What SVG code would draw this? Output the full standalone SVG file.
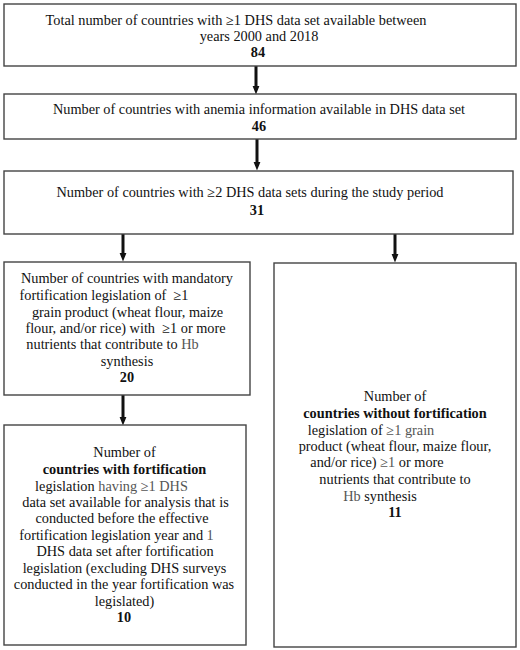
<svg xmlns="http://www.w3.org/2000/svg" width="520" height="650" viewBox="0 0 520 650">
<defs>
<style>
.box{fill:#fff;stroke:#444;stroke-width:1.4}
text{font-family:"Liberation Serif","Times New Roman",serif;font-size:14.3px;fill:#111;text-anchor:middle}
.b{font-weight:bold}
.g{fill:#555}
.arr{stroke:#111;stroke-width:3;fill:none;marker-end:url(#ah)}
</style>
<marker id="ah" markerWidth="3" markerHeight="3" refX="1.5" refY="1.5" orient="auto" markerUnits="strokeWidth">
<path d="M0,0.3 L3,1.5 L0,2.7 Z" fill="#111"/>
</marker>
</defs>
<rect width="520" height="650" fill="#fff"/>
<g id="connectors">
<line class="arr" x1="256" y1="66" x2="256" y2="90"/>
<line class="arr" x1="257" y1="139" x2="257" y2="166"/>
<line class="arr" x1="123" y1="234" x2="123" y2="257"/>
<line class="arr" x1="395" y1="234" x2="395" y2="258"/>
<line class="arr" x1="123" y1="395" x2="123" y2="421"/>
</g>
<g id="n1">
<rect class="box" x="4" y="4" width="512" height="62"/>
<text x="236" y="25">Total number of countries with ≥1 DHS data set available between</text>
<text x="259" y="41">years 2000 and 2018</text>
<text class="b" x="258" y="57">84</text>
</g>
<g id="n2">
<rect class="box" x="4" y="94" width="512" height="45"/>
<text x="259" y="114">Number of countries with anemia information available in DHS data set</text>
<text class="b" x="259" y="131">46</text>
</g>
<g id="n3">
<rect class="box" x="4" y="171" width="509" height="63"/>
<text x="250" y="197">Number of countries with ≥2 DHS data sets during the study period</text>
<text class="b" x="257" y="215">31</text>
</g>
<g id="n4">
<rect class="box" x="4" y="262" width="246" height="133"/>
<text x="127" y="283">Number of countries with mandatory</text>
<text x="104" y="300" xml:space="preserve">fortification legislation of  ≥1</text>
<text x="127.5" y="317">grain product (wheat flour, maize</text>
<text x="125.5" y="333" xml:space="preserve">flour, and/or rice) with  ≥1 or more</text>
<text x="112.5" y="349">nutrients that contribute to <tspan class="g">Hb</tspan></text>
<text x="127" y="366">synthesis</text>
<text class="b" x="127" y="382">20</text>
</g>
<g id="n5">
<rect class="box" x="274" y="263" width="242" height="384"/>
<text x="395" y="401">Number of</text>
<text class="b" x="395" y="418">countries without fortification</text>
<text x="371" y="435">legislation of <tspan class="g">≥1 grain</tspan></text>
<text x="395" y="451">product (wheat flour, maize flour,</text>
<text x="377" y="467">and/or rice) <tspan class="g">≥1</tspan> or more</text>
<text x="395" y="484">nutrients that contribute to</text>
<text x="380" y="501"><tspan class="g">Hb</tspan> synthesis</text>
<text class="b" x="395" y="517">11</text>
</g>
<g id="n6">
<rect class="box" x="4" y="425" width="242" height="220"/>
<text x="124.5" y="457">Number of</text>
<text class="b" x="124.5" y="474">countries with fortification</text>
<text x="111.5" y="491">legislation <tspan class="g">having ≥1 DHS</tspan></text>
<text x="125.5" y="507">data set available for analysis that is</text>
<text x="122" y="523">conducted before the effective</text>
<text x="116.5" y="540">fortification legislation year and <tspan class="g">1</tspan></text>
<text x="125" y="556">DHS data set after fortification</text>
<text x="124.5" y="573">legislation (excluding DHS surveys</text>
<text x="124" y="589">conducted in the year fortification was</text>
<text x="124.5" y="606">legislated)</text>
<text class="b" x="124" y="622">10</text>
</g>
</svg>
